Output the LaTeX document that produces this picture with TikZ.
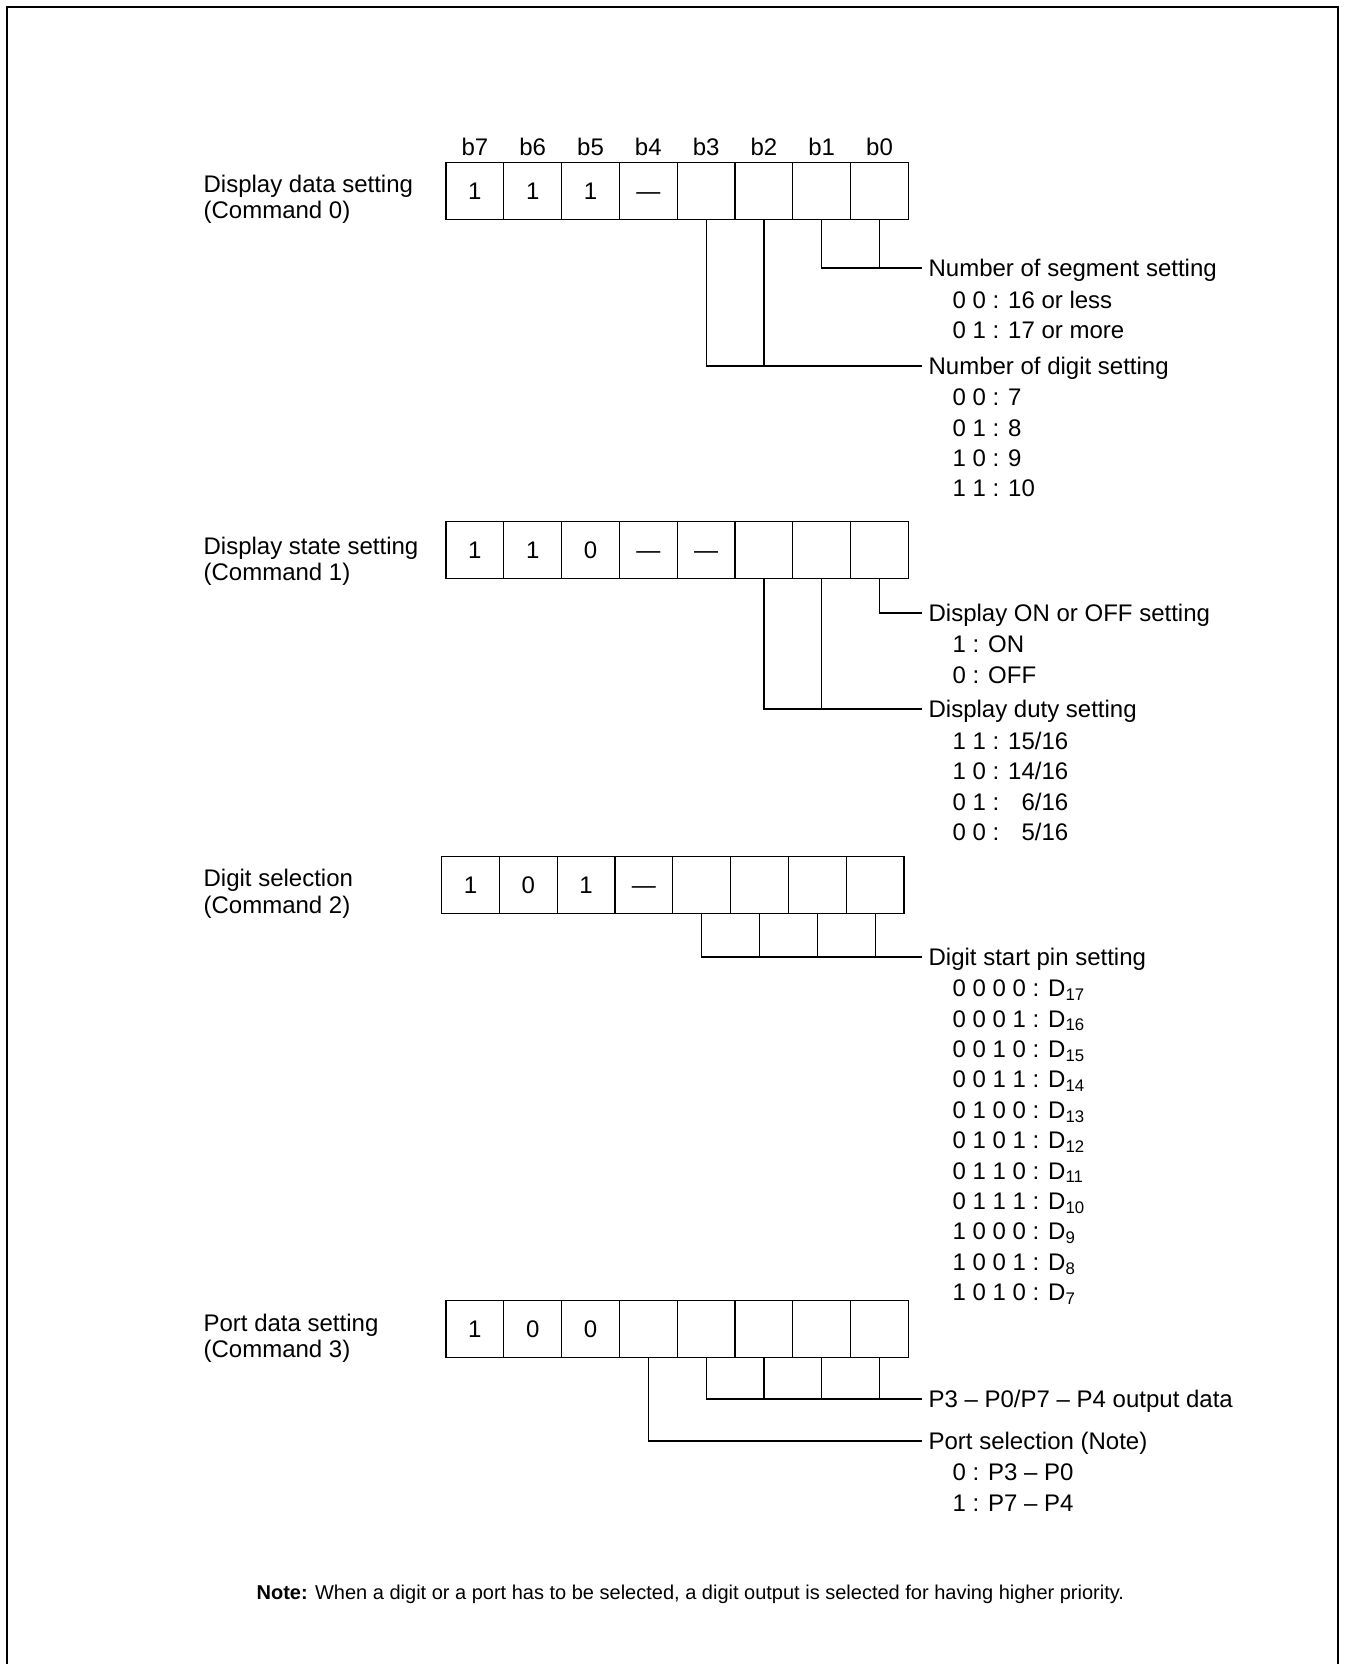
\documentclass[tikz,border=0pt]{standalone}
\usepackage{fontspec}
\setmainfont{Liberation Sans}
\usetikzlibrary{positioning}

\tikzset{
  cell/.style={draw,minimum width=57.8pt,minimum height=57.3pt,inner sep=0pt,text height=17.2pt,text depth=0pt},
  head/.style={anchor=west,inner sep=0pt,inner xsep=6pt,text height=17.2pt,text depth=0pt},
  list/.style={anchor=north west,align=left,inner sep=0pt},
  cmdname/.style={anchor=north west,align=left,inner sep=0pt,font=\fontsize{24}{26.5}\selectfont},
  note/.style={anchor=west,inner sep=0pt,font=\fontsize{20}{24}\selectfont}
}

\begin{document}
\begin{tikzpicture}[x=1pt,y=-1pt,node distance=57.8pt,on grid,line width=1.2pt,
    every node/.style={font=\fontsize{24}{30.4}\selectfont}]
  \useasboundingbox (0,0) rectangle (1345,1664);
  \draw[line width=2.5pt] (7,1664) -- (7,7) -- (1338,7) -- (1338,1664);

  % Command 0
  \node[cmdname] (name0) at (203,174.4) {Display data setting\\(Command 0)};
  \foreach \val [count=\i] in {1,1,1,\textemdash,{},{},{},{}} {
    \pgfmathtruncatemacro\bit{8-\i}
    \node[cell] (c0b\bit) at ({474.9+(\i-1)*57.8},191.2) {\val};
    \node (bit\bit) [above=44.7pt of c0b\bit] {b\bit};
  }
  \node[head] (seg) at (922,268) {Number of segment setting};
  \node (seglist) [below right=22.4pt and 30pt of seg.west,list] {0 0 : 16 or less\\0 1 : 17 or more};
  \node[head] (dig) at (922,366) {Number of digit setting};
  \node (diglist) [below right=22.4pt and 30pt of dig.west,list] {0 0 : 7\\0 1 : 8\\1 0 : 9\\1 1 : 10};
  \draw (c0b1.south) |- (seg.west);
  \draw (c0b0.south) -- (c0b0.south |- seg.west);
  \draw (c0b3.south) |- (dig.west);
  \draw (c0b2.south) -- (c0b2.south |- dig.west);

  % Command 1
  \node[cmdname] (name1) at (203,536.4) {Display state setting\\(Command 1)};
  \foreach \val [count=\i] in {1,1,0,\textemdash,\textemdash,{},{},{}} {
    \pgfmathtruncatemacro\bit{8-\i}
    \node[cell] (c1b\bit) at ({474.9+(\i-1)*57.8},549.8) {\val};
  }
  \node[head] (onoff) at (922,613) {Display ON or OFF setting};
  \node (onofflist) [below right=22.4pt and 30pt of onoff.west,list] {1 : ON\\0 : OFF};
  \node[head] (duty) at (922,709) {Display duty setting};
  \node (dutylist) [below right=22.4pt and 30pt of duty.west,list]
    {1 1 : 15/16\\1 0 : 14/16\\0 1 : \phantom{1}6/16\\0 0 : \phantom{1}5/16};
  \draw (c1b0.south) |- (onoff.west);
  \draw (c1b2.south) |- (duty.west);
  \draw (c1b1.south) -- (c1b1.south |- duty.west);

  % Command 2
  \node[cmdname] (name2) at (203,868.9) {Digit selection\\(Command 2)};
  \foreach \val [count=\i] in {1,0,1,\textemdash,{},{},{},{}} {
    \pgfmathtruncatemacro\bit{8-\i}
    \node[cell] (c2b\bit) at ({470.5+(\i-1)*57.8},884.9) {\val};
  }
  \node[head] (pin) at (922,957) {Digit start pin setting};
  \node (pinlist) [below right=22.4pt and 30pt of pin.west,list]
    {0 0 0 0 : D\textsubscript{17}\\0 0 0 1 : D\textsubscript{16}\\0 0 1 0 : D\textsubscript{15}\\
     0 0 1 1 : D\textsubscript{14}\\0 1 0 0 : D\textsubscript{13}\\0 1 0 1 : D\textsubscript{12}\\
     0 1 1 0 : D\textsubscript{11}\\0 1 1 1 : D\textsubscript{10}\\1 0 0 0 : D\textsubscript{9}\\
     1 0 0 1 : D\textsubscript{8}\\1 0 1 0 : D\textsubscript{7}};
  \draw (c2b3.south) |- (pin.west);
  \foreach \bit in {2,1,0}
    \draw (c2b\bit.south) -- (c2b\bit.south |- pin.west);

  % Command 3
  \node[cmdname] (name3) at (203,1313.2) {Port data setting\\(Command 3)};
  \foreach \val [count=\i] in {1,0,0,{},{},{},{},{}} {
    \pgfmathtruncatemacro\bit{8-\i}
    \node[cell] (c3b\bit) at ({474.9+(\i-1)*57.8},1329.2) {\val};
  }
  \node[head] (out) at (922,1399) {P3 -- P0/P7 -- P4 output data};
  \node[head] (port) at (922,1441) {Port selection (Note)};
  \node (portlist) [below right=22.4pt and 30pt of port.west,list] {0 : P3 -- P0\\1 : P7 -- P4};
  \draw (c3b3.south) |- (out.west);
  \foreach \bit in {2,1,0}
    \draw (c3b\bit.south) -- (c3b\bit.south |- out.west);
  \draw (c3b4.south) |- (port.west);

  \node[note] (remark) at (256,1594) {\textbf{Note:} When a digit or a port has to be selected, a digit output is selected for having higher priority.};
\end{tikzpicture}
\end{document}
